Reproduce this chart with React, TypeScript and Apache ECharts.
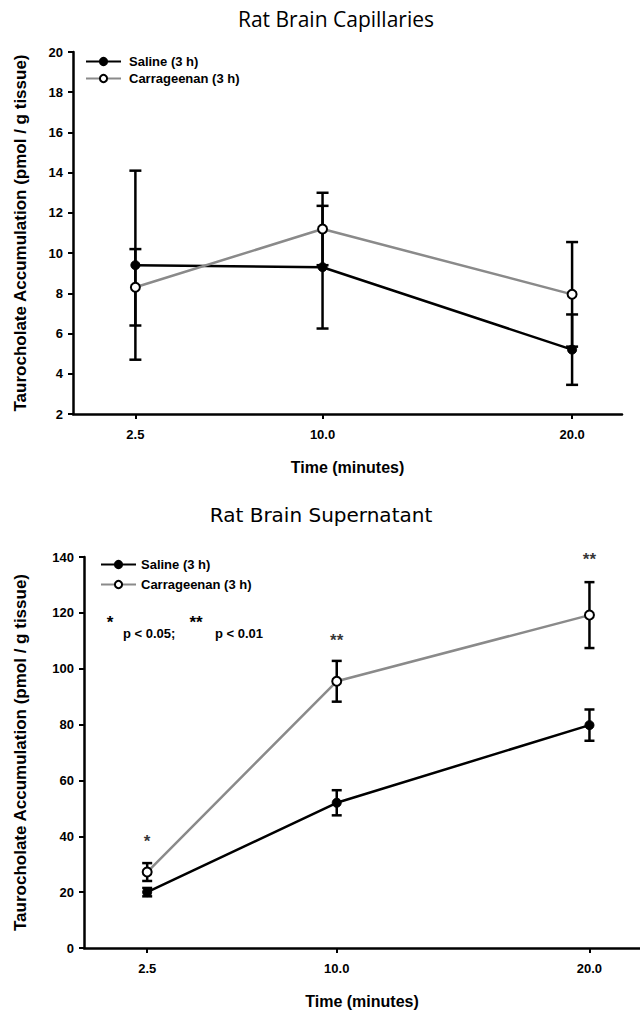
import React, { useEffect, useRef } from "react";
import * as echarts from "echarts";

// ---- data ----
const timePoints = [2.5, 10.0, 20.0];
const xTickValues = [2.5, 10, 20];

const capSalineMean = [9.4, 9.3, 5.2];
const capSalineErr = [4.7, 3.05, 1.75];
const capCarrMean = [8.3, 11.2, 7.95];
const capCarrErr = [1.9, 1.8, 2.6];

const supSalineMean = [20.0, 52.0, 79.8];
const supSalineErr = [1.5, 4.5, 5.6];
const supCarrMean = [27.2, 95.5, 119.2];
const supCarrErr = [3.2, 7.3, 11.8];

const supStars = ["*", "**", "**"];
const supStarY = [38, 110, 139];

const topTitle = "Rat Brain Capillaries";
const bottomTitle = "Rat Brain Supernatant";
const yName = "Taurocholate Accumulation (pmol / g tissue)";
const xName = "Time (minutes)";
const salineName = "Saline (3 h)";
const carrName = "Carrageenan (3 h)";

const FONT = "'Liberation Sans', Arial, sans-serif";

function pairs(xs: number[], ys: number[]) {
  return xs.map((x, i) => [x, ys[i]]);
}
function errRows(xs: number[], m: number[], e: number[]) {
  return xs.map((x, i) => [x, m[i] - e[i], m[i] + e[i]]);
}

function errorSeries(idx: number, data: number[][], capHalf: number) {
  return {
    type: "custom",
    xAxisIndex: idx,
    yAxisIndex: idx,
    z: 5,
    silent: true,
    encode: { x: 0, y: [1, 2] },
    data,
    renderItem: (params: any, api: any) => {
      const x = api.value(0);
      const lo = api.value(1);
      const hi = api.value(2);
      const pHi = api.coord([x, hi]);
      const pLo = api.coord([x, lo]);
      const st = { stroke: "#000", lineWidth: 2.5 };
      return {
        type: "group",
        children: [
          { type: "line", shape: { x1: pHi[0], y1: pHi[1], x2: pLo[0], y2: pLo[1] }, style: st },
          { type: "line", shape: { x1: pHi[0] - capHalf, y1: pHi[1], x2: pHi[0] + capHalf, y2: pHi[1] }, style: st },
          { type: "line", shape: { x1: pLo[0] - capHalf, y1: pLo[1], x2: pLo[0] + capHalf, y2: pLo[1] }, style: st },
        ],
      };
    },
  };
}

function lineSeries(idx: number, name: string, data: number[][], open: boolean) {
  return {
    type: "line",
    name,
    xAxisIndex: idx,
    yAxisIndex: idx,
    data,
    z: 6,
    symbol: "circle",
    symbolSize: 9,
    lineStyle: { color: open ? "#8a8a8a" : "#000", width: 2.5 },
    itemStyle: open
      ? { color: "#fff", borderColor: "#000", borderWidth: 2 }
      : { color: "#000", borderColor: "#000", borderWidth: 1 },
  };
}

function xAxisCfg(idx: number, gap: number) {
  return {
    type: "value",
    gridIndex: idx,
    min: 0,
    max: 22,
    name: xName,
    nameLocation: "middle",
    nameGap: gap,
    nameTextStyle: { fontFamily: FONT, fontWeight: "bold", fontSize: 16, color: "#000" },
    axisLine: { show: true, onZero: false, lineStyle: { color: "#000", width: 2.5 } },
    axisTick: { show: true, length: 5, customValues: xTickValues, lineStyle: { color: "#000", width: 2 } },
    axisLabel: {
      customValues: xTickValues,
      formatter: (v: number) => v.toFixed(1),
      fontFamily: FONT,
      fontWeight: "bold",
      fontSize: 13,
      color: "#000",
      margin: 14,
    },
    splitLine: { show: false },
  };
}

function yAxisCfg(idx: number, min: number, max: number, interval: number, gap: number) {
  return {
    type: "value",
    gridIndex: idx,
    min,
    max,
    interval,
    name: yName,
    nameLocation: "middle",
    nameGap: gap,
    nameTextStyle: { fontFamily: FONT, fontWeight: "bold", fontSize: 17, color: "#000" },
    axisLine: { show: true, onZero: false, lineStyle: { color: "#000", width: 2.5 } },
    axisTick: { show: true, length: 5, lineStyle: { color: "#000", width: 2 } },
    axisLabel: { fontFamily: FONT, fontWeight: "bold", fontSize: 13, color: "#000", margin: 10 },
    splitLine: { show: false },
  };
}

export default function App() {
  const ref = useRef<HTMLDivElement>(null);
  useEffect(() => {
    if (!ref.current) return;
    const chart = echarts.init(ref.current, null, { renderer: "svg" });
    const legendText = { fontFamily: FONT, fontWeight: "bold", fontSize: 13, color: "#000" };
    chart.setOption({
      animation: false,
      backgroundColor: "#fff",
      grid: [
        { left: 73, top: 52, width: 549, height: 362 },
        { left: 84, top: 557, width: 556, height: 391 },
      ],
      legend: [
        {
          orient: "vertical",
          left: 85,
          top: 55,
          padding: 0,
          itemWidth: 35,
          itemHeight: 9,
          itemGap: 4,
          textStyle: { ...legendText, padding: [0, 0, 0, 3] },
          data: [salineName, carrName],
        },
        {
          orient: "vertical",
          left: 100,
          top: 558,
          padding: 0,
          itemWidth: 35,
          itemHeight: 9,
          itemGap: 7,
          textStyle: legendText,
          data: [salineName, carrName],
        },
      ],
      xAxis: [xAxisCfg(0, 45), xAxisCfg(1, 45)],
      yAxis: [yAxisCfg(0, 2, 20, 2, 44), yAxisCfg(1, 0, 140, 20, 55)],
      graphic: [
        {
          type: "text",
          x: 336,
          y: 19,
          style: {
            text: topTitle,
            fontFamily: "'Open Sans', sans-serif",
            fontSize: 21,
            fill: "#000",
            textAlign: "center",
            textVerticalAlign: "middle",
          },
        },
        {
          type: "text",
          x: 321,
          y: 515,
          style: {
            text: bottomTitle,
            fontFamily: "'DejaVu Sans', sans-serif",
            fontSize: 20,
            fill: "#000",
            textAlign: "center",
            textVerticalAlign: "middle",
          },
        },
        {
          type: "text",
          x: 110,
          y: 622,
          style: { text: "*", fontFamily: FONT, fontWeight: "bold", fontSize: 17, fill: "#000", textAlign: "center", textVerticalAlign: "middle" },
        },
        {
          type: "text",
          x: 123,
          y: 633,
          style: { text: "p < 0.05;", fontFamily: FONT, fontWeight: "bold", fontSize: 13, fill: "#000", textAlign: "left", textVerticalAlign: "middle" },
        },
        {
          type: "text",
          x: 196,
          y: 622,
          style: { text: "**", fontFamily: FONT, fontWeight: "bold", fontSize: 17, fill: "#000", textAlign: "center", textVerticalAlign: "middle" },
        },
        {
          type: "text",
          x: 215,
          y: 633,
          style: { text: "p < 0.01", fontFamily: FONT, fontWeight: "bold", fontSize: 13, fill: "#000", textAlign: "left", textVerticalAlign: "middle" },
        },
      ],
      series: [
        lineSeries(0, salineName, pairs(timePoints, capSalineMean), false),
        lineSeries(0, carrName, pairs(timePoints, capCarrMean), true),
        errorSeries(0, errRows(timePoints, capSalineMean, capSalineErr), 6),
        errorSeries(0, errRows(timePoints, capCarrMean, capCarrErr), 6),
        lineSeries(1, salineName, pairs(timePoints, supSalineMean), false),
        lineSeries(1, carrName, pairs(timePoints, supCarrMean), true),
        errorSeries(1, errRows(timePoints, supSalineMean, supSalineErr), 5),
        errorSeries(1, errRows(timePoints, supCarrMean, supCarrErr), 5),
        {
          type: "scatter",
          xAxisIndex: 1,
          yAxisIndex: 1,
          symbolSize: 0,
          silent: true,
          data: timePoints.map((x, i) => ({ value: [x, supStarY[i]], label: { formatter: supStars[i] } })),
          label: {
            show: true,
            position: "inside",
            fontFamily: FONT,
            fontWeight: "bold",
            fontSize: 17,
            color: "#000",
          },
        },
      ],
    });
    return () => chart.dispose();
  }, []);
  return (
    <div
      ref={ref}
      style={{ position: "absolute", left: 0, top: 0, width: 640, height: 1014 }}
    />
  );
}
